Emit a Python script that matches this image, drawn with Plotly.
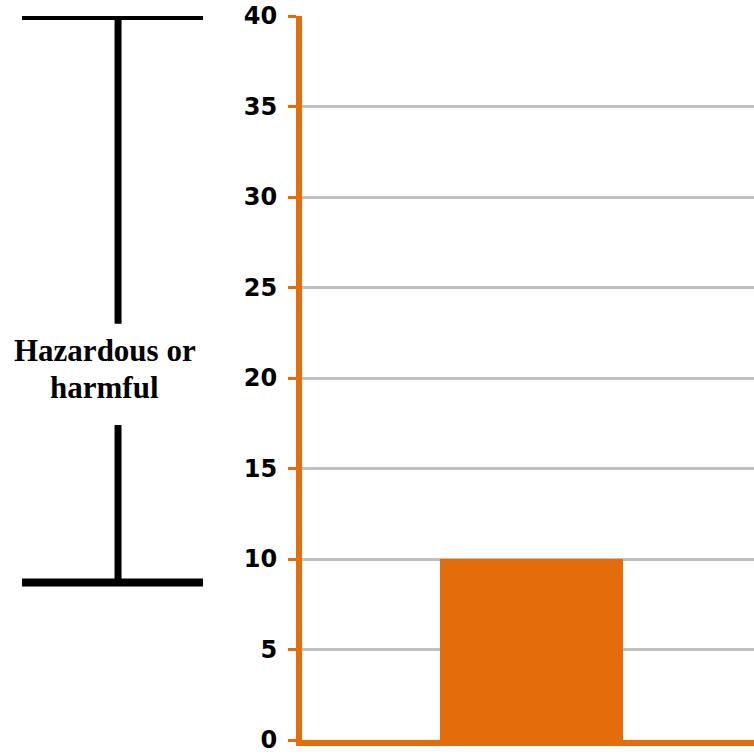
import plotly.graph_objects as go

# Chart data
categories = ["Sample"]
values = [10]
y_ticks = [0, 5, 10, 15, 20, 25, 30, 35, 40]

# Extent of the "Hazardous or harmful" band on the value axis
hazard_low = 8.7
hazard_high = 40
hazard_lines = ["Hazardous or", "harmful"]
hazard_line_y = [21.5, 19.45]

ORANGE = "#E46C0A"
GRID = "#C0C0C0"

fig = go.Figure(
    go.Bar(
        x=categories,
        y=values,
        width=0.405,
        marker=dict(color=ORANGE, line=dict(width=0)),
        hoverinfo="skip",
    )
)

fig.update_layout(
    width=754,
    height=756,
    margin=dict(l=302, r=0, t=16, b=16),
    paper_bgcolor="white",
    plot_bgcolor="white",
    showlegend=False,
    bargap=0,
)

fig.update_xaxes(
    range=[-0.5077, 0.4923],
    showticklabels=False,
    showgrid=False,
    zeroline=False,
    showline=True,
    linecolor=ORANGE,
    linewidth=6,
    ticks="",
)

fig.update_yaxes(
    range=[0, 40],
    tickvals=y_ticks,
    ticktext=[str(v) for v in y_ticks],
    tickfont=dict(family="DejaVu Sans", size=24, color="black", weight="bold"),
    showgrid=True,
    gridcolor=GRID,
    gridwidth=3,
    zeroline=False,
    showline=True,
    linecolor=ORANGE,
    linewidth=6,
    ticks="outside",
    ticklen=8,
    tickwidth=3,
    tickcolor=ORANGE,
    ticklabelstandoff=6,
)

# Bracket marking the hazardous range, drawn left of the value axis
bx_left, bx_mid, bx_right = -0.6195, -0.407, -0.219
line_style = dict(color="black", width=8)
gap_top, gap_bottom = 23.0, 17.4
fig.add_shape(type="line", xref="paper", yref="y", x0=bx_left, x1=bx_right,
              y0=hazard_high, y1=hazard_high, line=line_style, layer="above")
fig.add_shape(type="line", xref="paper", yref="y", x0=bx_left, x1=bx_right,
              y0=hazard_low, y1=hazard_low, line=line_style, layer="above")
fig.add_shape(type="line", xref="paper", yref="y", x0=bx_mid, x1=bx_mid,
              y0=hazard_high, y1=gap_top, line=dict(color="black", width=7), layer="above")
fig.add_shape(type="line", xref="paper", yref="y", x0=bx_mid, x1=bx_mid,
              y0=gap_bottom, y1=hazard_low, line=dict(color="black", width=7), layer="above")

for text, yv in zip(hazard_lines, hazard_line_y):
    fig.add_annotation(
        text=text,
        xref="paper", yref="y",
        x=-0.436, y=yv,
        xanchor="center", yanchor="middle",
        showarrow=False,
        font=dict(family="Liberation Serif", size=31, color="black", weight="bold"),
    )

fig.write_html("out.html")
